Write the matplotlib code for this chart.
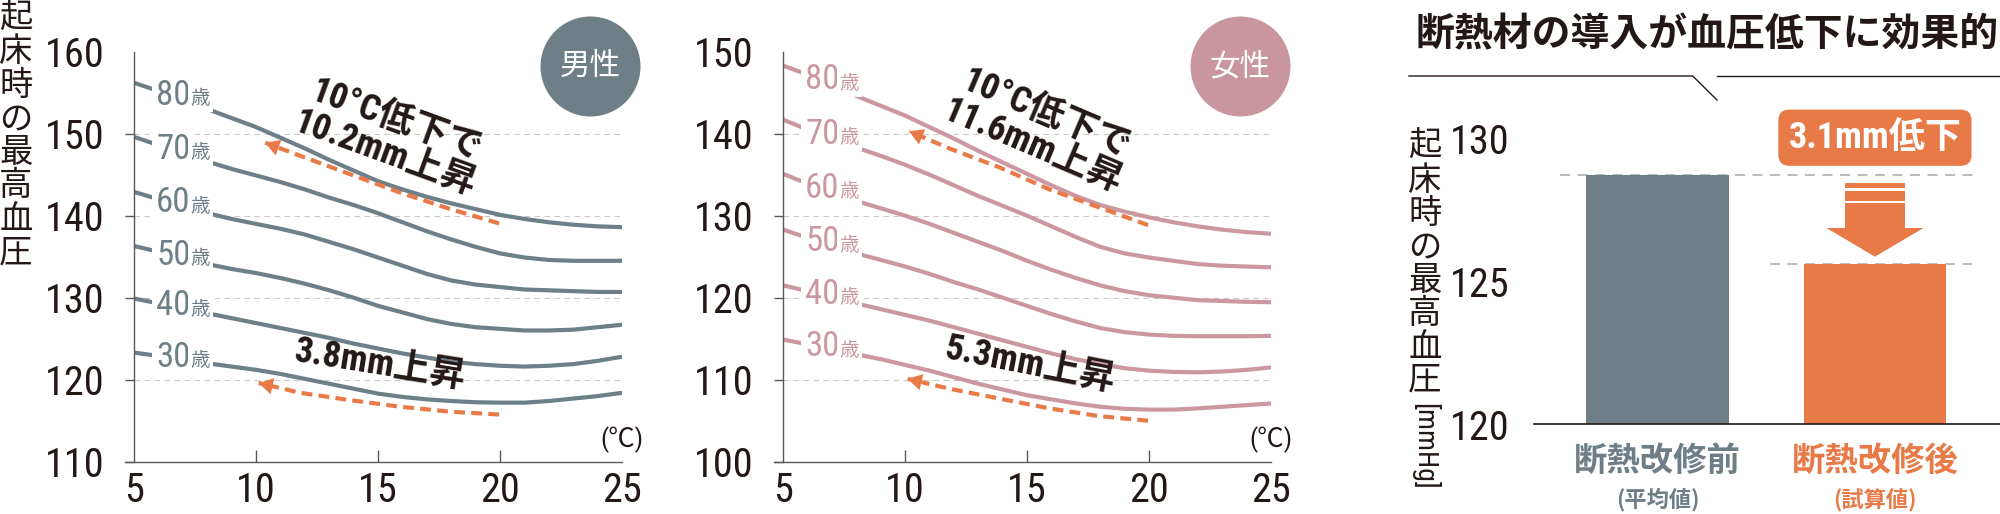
import matplotlib
matplotlib.use('Agg')
import matplotlib.pyplot as plt
import matplotlib.font_manager as fm
from matplotlib.patches import Rectangle, Polygon
from matplotlib.lines import Line2D
from matplotlib.transforms import blended_transform_factory

plt.rcParams['font.family'] = ['Noto Sans CJK JP', 'DejaVu Sans']


def pick_narrow():
    # the numbers in the original are set in a condensed face; use one if there is any
    names = {f.name for f in fm.fontManager.ttflist}
    for p in ['Liberation Sans Narrow', 'Roboto Condensed', 'Open Sans Condensed',
              'Noto Sans Condensed', 'DejaVu Sans Condensed']:
        if p in names:
            return p, 'normal'
    for f in fm.fontManager.ttflist:
        if 'Narrow' in f.name or 'Condensed' in f.name:
            return f.name, 'normal'
    for f in fm.fontManager.ttflist:
        st = f.stretch
        if (isinstance(st, str) and 'condensed' in st) or (isinstance(st, (int, float)) and st < 100):
            return f.name, 'condensed'
    return 'Noto Sans CJK JP', 'normal'


narrow_name, narrow_stretch = pick_narrow()
NUM = [narrow_name, 'Noto Sans CJK JP', 'DejaVu Sans']
plt.rcParams['font.stretch'] = narrow_stretch

MEN = '#6e7f88'
WOMEN = '#cb98a1'
ORANGE = '#e87a48'
TEXT = '#231815'
AXIS = '#595757'
GRID = '#c9c9c9'

# outdoor temperature (deg C) and age groups
temps = list(range(5, 26))
ages = ['30', '40', '50', '60', '70', '80']

# morning systolic blood pressure, men
men_30 = [123.3, 122.9, 122.5, 122.0, 121.6, 121.2, 120.7, 120.1, 119.5, 118.9, 118.3,
          117.9, 117.6, 117.4, 117.25, 117.2, 117.2, 117.4, 117.7, 118.0, 118.4]
men_40 = [129.9, 129.3, 128.7, 128.1, 127.5, 126.9, 126.3, 125.7, 125.1, 124.4, 123.8,
          123.2, 122.7, 122.2, 121.9, 121.7, 121.6, 121.7, 121.9, 122.3, 122.8]
men_50 = [136.3, 135.6, 134.8, 134.1, 133.5, 133.0, 132.4, 131.7, 130.9, 130.0, 129.0,
          128.2, 127.4, 126.8, 126.4, 126.2, 126.0, 126.0, 126.1, 126.4, 126.7]
men_60 = [142.9, 142.0, 141.1, 140.3, 139.6, 139.0, 138.4, 137.7, 136.8, 135.9, 134.9,
          133.9, 132.9, 132.1, 131.6, 131.3, 131.0, 130.9, 130.8, 130.7, 130.7]
men_70 = [149.6, 148.6, 147.6, 146.6, 145.7, 144.9, 144.1, 143.2, 142.2, 141.3, 140.3,
          139.2, 138.1, 137.1, 136.2, 135.4, 134.9, 134.6, 134.5, 134.5, 134.5]
men_80 = [156.2, 155.2, 154.1, 153.0, 151.9, 150.8, 149.5, 148.2, 146.8, 145.5, 144.2,
          143.2, 142.3, 141.5, 140.8, 140.1, 139.6, 139.2, 138.9, 138.7, 138.6]

# morning systolic blood pressure, women
women_30 = [114.9, 114.3, 113.7, 113.1, 112.5, 111.8, 111.1, 110.3, 109.5, 108.8, 108.1,
            107.6, 107.1, 106.7, 106.45, 106.35, 106.35, 106.5, 106.7, 106.9, 107.1]
women_40 = [121.5, 120.8, 120.0, 119.3, 118.6, 117.9, 117.2, 116.4, 115.6, 114.8, 114.0,
            113.2, 112.5, 111.9, 111.4, 111.1, 110.95, 110.9, 111.0, 111.2, 111.5]
women_50 = [128.3, 127.3, 126.3, 125.4, 124.6, 123.8, 122.9, 121.9, 121.0, 120.0, 119.0,
            118.0, 117.1, 116.3, 115.8, 115.5, 115.35, 115.3, 115.3, 115.3, 115.35]
women_60 = [135.1, 133.9, 132.8, 131.8, 130.9, 130.0, 129.0, 127.9, 126.8, 125.7, 124.5,
            123.4, 122.4, 121.5, 120.8, 120.3, 120.0, 119.7, 119.6, 119.5, 119.45]
women_70 = [141.7, 140.5, 139.4, 138.3, 137.3, 136.2, 135.0, 133.7, 132.4, 131.2, 130.0,
            128.7, 127.4, 126.2, 125.4, 124.9, 124.5, 124.1, 123.9, 123.8, 123.7]
women_80 = [148.3, 147.2, 145.9, 144.6, 143.4, 142.2, 140.8, 139.4, 137.9, 136.5, 135.1,
            133.7, 132.4, 131.3, 130.5, 129.8, 129.2, 128.7, 128.3, 128.0, 127.8]

# orange dashed arrows (from 20 deg back to 10 deg)
men_hi_x = [19.96, 17.97, 15.92, 13.86, 11.81, 10.37]
men_hi_y = [139.06, 140.8, 142.8, 145.05, 147.3, 148.9]
men_lo_x = [19.96, 17.97, 15.92, 13.86, 11.81, 10.1]
men_lo_y = [115.75, 116.1, 116.7, 117.5, 118.4, 119.6]
women_hi_x = [19.96, 17.97, 15.92, 13.86, 11.81, 10.16]
women_hi_y = [128.85, 131.0, 133.2, 135.9, 138.2, 140.3]
women_lo_x = [19.96, 17.97, 15.92, 13.86, 11.81, 10.1]
women_lo_y = [105.0, 105.55, 106.5, 107.7, 108.9, 110.1]

men_notes = ['10°C低下で\n10.2mm上昇', '3.8mm上昇']
women_notes = ['10°C低下で\n11.6mm上昇', '5.3mm上昇']

# bar chart
bar_labels = ['断熱改修前', '断熱改修後']
bar_notes = ['(平均値)', '(試算値)']
bar_values = [128.7, 125.6]
drop_label = '3.1mm低下'
ylabel = '起床時の最高血圧'
title = '断熱材の導入が血圧低下に効果的'

fig = plt.figure(figsize=(20, 5.14), dpi=100)


def line_panel(ax, curves, color, ylo, arrows, notes, note_pos, badge, badge_pos):
    ax.set_xlim(4.62, 25)
    ax.set_ylim(ylo, ylo + 50)
    for s in ['top', 'right']:
        ax.spines[s].set_visible(False)
    ax.spines['left'].set_position(('data', 5))
    for s in ['left', 'bottom']:
        ax.spines[s].set_color(AXIS)
        ax.spines[s].set_linewidth(1.0)
    yt = list(range(ylo, ylo + 51, 10))
    ax.set_xticks([5, 10, 15, 20, 25])
    ax.set_yticks(yt)
    ax.tick_params(axis='x', direction='in', length=9, width=1, color=AXIS, pad=7,
                   labelsize=29, labelcolor=TEXT, labelfontfamily=NUM)
    ax.tick_params(axis='y', direction='out', length=6.5, width=1, color=AXIS, pad=15,
                   labelsize=29, labelcolor=TEXT, labelfontfamily=NUM)
    xt = ax.xaxis.get_major_ticks()
    xt[0].tick1line.set_visible(False)
    xt[-1].tick1line.set_visible(False)
    ax.yaxis.get_major_ticks()[-1].tick1line.set_visible(False)
    ax.hlines(yt[1:-1], 5, 25, colors=GRID, linestyles=(0, (5, 4)), lw=0.8, zorder=0)

    for age, vals in zip(ages, curves):
        ax.plot(temps, vals, color=color, lw=3, solid_capstyle='butt', zorder=2)
        ylab = (vals[1] + vals[2]) / 2
        t = ax.text(5.9, ylab, age, color=color, fontsize=25, family=NUM,
                    ha='left', va='center', zorder=4,
                    bbox=dict(boxstyle='square,pad=0.12', fc='white', ec='none'))
        ax.annotate('歳', xy=(1, 0), xycoords=t, xytext=(0, 2), textcoords='offset points',
                    ha='left', va='bottom', fontsize=14, color=color, zorder=4,
                    bbox=dict(boxstyle='square,pad=0.15', fc='white', ec='none'))

    for xs, ys in arrows:
        ax.plot(xs, ys, color=ORANGE, lw=3, ls=(0, (2.6, 1.5)), dash_capstyle='butt', zorder=3)
        ax.annotate('', xy=(xs[-1], ys[-1]), xytext=(xs[-2], ys[-2]),
                    arrowprops=dict(arrowstyle='-|>,head_length=0.6,head_width=0.35',
                                    mutation_scale=17, fc=ORANGE, ec='none', lw=0,
                                    shrinkA=0, shrinkB=0), zorder=3)

    for txt, (nx, ny, rot) in zip(notes, note_pos):
        ax.text(nx, ny, txt, rotation=rot, rotation_mode='anchor', ha='center', va='center',
                multialignment='center', fontsize=26, fontweight='bold', family=NUM,
                color=TEXT, linespacing=0.95, zorder=5)

    bx, by, bcol = badge_pos
    ax.scatter([bx], [by], s=72 ** 2, color=bcol, lw=0, clip_on=False, zorder=1)
    ax.text(bx, by, badge, color='white', fontsize=22, ha='center', va='center', zorder=2)

    ax.text(1.0, 0.053, '(℃)', transform=ax.transAxes, ha='center', va='center',
            fontsize=19, family=NUM, color=TEXT)


ax1 = fig.add_axes([125 / 2000, 1 - 461.7 / 514, 0.2485, 410 / 514])
line_panel(ax1, [men_30, men_40, men_50, men_60, men_70, men_80], MEN, 110,
           [(men_hi_x, men_hi_y), (men_lo_x, men_lo_y)], men_notes,
           [(15.5, 149.6, -20), (15.1, 121.8, -9)], '男性', (23.7, 158.2, MEN))

ax2 = fig.add_axes([774 / 2000, 1 - 461.7 / 514, 0.2485, 410 / 514])
line_panel(ax2, [women_30, women_40, women_50, women_60, women_70, women_80], WOMEN, 100,
           [(women_hi_x, women_hi_y), (women_lo_x, women_lo_y)], women_notes,
           [(15.5, 140.4, -23), (15.1, 111.8, -11)], '女性', (23.74, 148.2, '#c9959f'))

# vertical y label of the line chart
for i, ch in enumerate(ylabel):
    fig.text(16 / 2000, 1 - (18.5 + i * 33.5) / 514, ch, ha='center', va='center',
             fontsize=24, color=TEXT)

# bar chart
ax3 = fig.add_axes([1533.5 / 2000, 1 - 424 / 514, 466.5 / 2000, 324 / 514])
ax3.set_xlim(-0.57, 1.575)
ax3.set_ylim(120, 131.34)
for s in ['top', 'right', 'left']:
    ax3.spines[s].set_visible(False)
ax3.spines['bottom'].set_color(TEXT)
ax3.spines['bottom'].set_linewidth(1.2)
ax3.set_xticks([])
ax3.set_yticks([120, 125, 130])
ax3.tick_params(axis='y', length=0, pad=17, labelsize=29, labelcolor=TEXT, labelfontfamily=NUM)

bar_colors = ['#6d7e86', ORANGE]
ax3.bar([0, 1], bar_values, width=0.655, color=bar_colors, zorder=2)
ax3.hlines(bar_values[0], -0.448, 1.455, colors='#b0b0b0', linestyles=(0, (6, 4.5)), lw=1.2, zorder=1)
ax3.hlines(bar_values[1], 0.517, 1.446, colors='#b0b0b0', linestyles=(0, (6, 4.5)), lw=1.2, zorder=1)

# down arrow between the two levels
cx = 1
top, bot = bar_values
ax3.add_patch(Rectangle((cx - 0.14, top - 0.44), 0.28, 0.175, color=ORANGE, lw=0, zorder=3))
ax3.add_patch(Rectangle((cx - 0.14, top - 0.895), 0.28, 0.35, color=ORANGE, lw=0, zorder=3))
ax3.add_patch(Rectangle((cx - 0.14, top - 1.84), 0.28, 0.86, color=ORANGE, lw=0, zorder=3))
ax3.add_patch(Polygon([(cx - 0.223, top - 1.84), (cx + 0.223, top - 1.84), (cx, bot + 0.256)],
                      closed=True, color=ORANGE, lw=0, zorder=3))

ax3.text(cx, 130.02, drop_label, ha='center', va='center', fontsize=26, fontweight='bold',
         family=NUM, color='white', zorder=4,
         bbox=dict(boxstyle='round,pad=0.28,rounding_size=0.3', fc=ORANGE, ec='none'))

tr = blended_transform_factory(ax3.transData, ax3.transAxes)
for i, (lab, note, col) in enumerate(zip(bar_labels, bar_notes, bar_colors)):
    ax3.text(i, -0.1164, lab, transform=tr, ha='center', va='center', fontsize=24,
             fontweight='bold', color=col)
    ax3.text(i, -0.2346, note, transform=tr, ha='center', va='center', fontsize=16,
             fontweight='bold', color=col)

for i, ch in enumerate(ylabel):
    fig.text(1425 / 2000, 1 - (146.7 + i * 33.4) / 514, ch, ha='center', va='center',
             fontsize=24, color=TEXT)
fig.text(1425 / 2000, 1 - 446.5 / 514, '[mmHg]', rotation=-90, ha='center', va='center',
         fontsize=20, family=NUM, color=TEXT)

fig.text(1707 / 2000, 1 - 35 / 514, title, ha='center', va='center', fontsize=28,
         fontweight='bold', color=TEXT)
fig.add_artist(Line2D([1409 / 2000, 1692.7 / 2000, 1717 / 2000],
                      [1 - 76 / 514, 1 - 76 / 514, 1 - 100 / 514], color=TEXT, lw=1.0))
fig.add_artist(Line2D([1717 / 2000, 1.0], [1 - 76 / 514, 1 - 76 / 514], color=TEXT, lw=1.0))

fig.savefig('out.png', dpi=100)
